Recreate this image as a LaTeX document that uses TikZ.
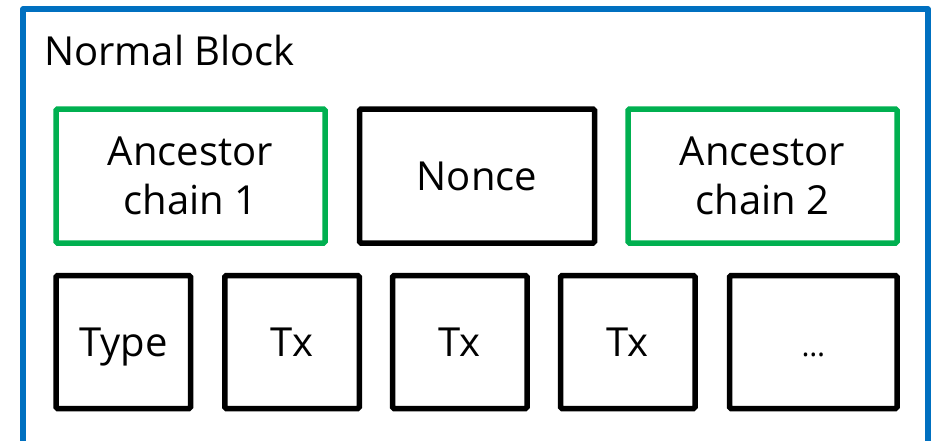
\documentclass[tikz,border=0pt]{standalone}
\usepackage{fontspec}
\setmainfont{Open Sans}
\definecolor{frameblue}{HTML}{0070C0}
\definecolor{chaingreen}{HTML}{00B050}
\begin{document}
\begin{tikzpicture}[x=1pt,y=-1pt,
  every node/.style={font=\fontsize{40}{49}\selectfont, inner sep=0pt, outer sep=0pt},
  blockframe/.style={draw=frameblue, line width=5.5pt, line join=round},
  chainbox/.style={draw=chaingreen, line width=5.5pt, rounded corners=1.5pt,
    minimum width=269pt, minimum height=134pt, align=center},
  plainbox/.style={draw=black, line width=5.5pt, rounded corners=1.5pt,
    minimum height=134pt, align=center},
  cellbox/.style={draw=black, line width=5.5pt, rounded corners=1.5pt,
    minimum width=134.5pt, minimum height=133pt, text height=29pt, text depth=0pt}]
  \useasboundingbox (0,0) rectangle (932,440);
  % outer block frame, running past the lower edge
  \draw[blockframe] (23,470) -- (23,9) -- (928,9) -- (928,470);
  \node[anchor=base west] (title) at (44,65) {Normal Block};
  % header row
  \node[chainbox] (anc1) at (190.5,176) {Ancestor\\chain 1};
  \node[plainbox, minimum width=235pt] (nonce) at (477,176) {Nonce};
  \node[chainbox] (anc2) at (762.5,176) {Ancestor\\chain 2};
  % body row
  \node[cellbox] (type) at (123.3,342) {Type};
  \node[cellbox] (tx1) at (292,342) {Tx};
  \node[cellbox] (tx2) at (459.8,342) {Tx};
  \node[cellbox] (tx3) at (627.8,342) {Tx};
  \node[cellbox, minimum width=167.5pt] (more) at (813.3,342) {\fontsize{30}{34}\selectfont …};
\end{tikzpicture}
\end{document}
